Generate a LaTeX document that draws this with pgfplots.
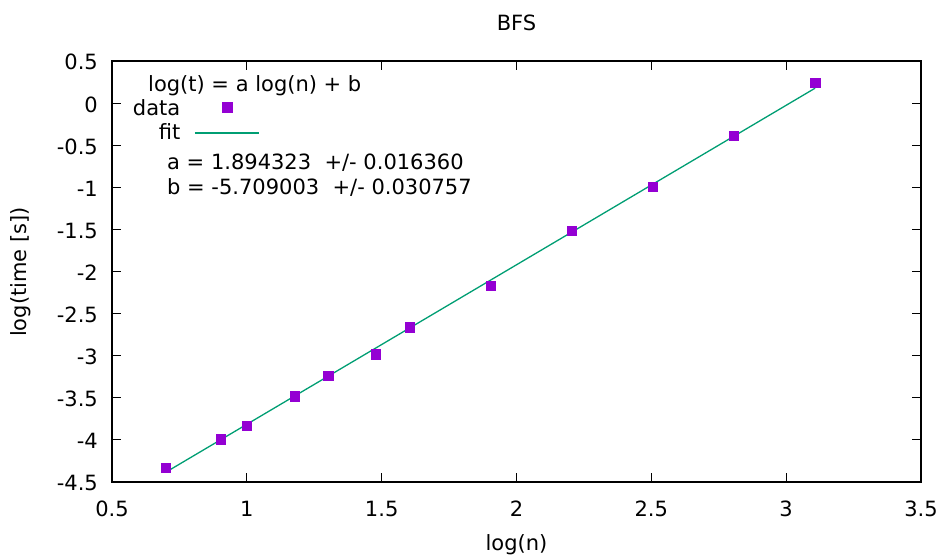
\documentclass[border=0pt]{standalone}
\usepackage{pgfplots}
\pgfplotsset{compat=1.18}
\usepackage{fontspec}
\setmainfont{DejaVu Sans}

\definecolor{dataviolet}{HTML}{9400D3}
\definecolor{fitgreen}{HTML}{009E73}

% key samples: a single centred mark, and a plain line, each 64pt wide
\pgfplotsset{
  key mark/.style={legend image code/.code={\draw[mark repeat=2, mark phase=2, ##1]
    plot coordinates {(0pt,4pt) (32pt,4pt) (64pt,4pt)};}},
  key line/.style={legend image code/.code={\draw[##1] (0pt,2pt) -- (64pt,2pt);}},
}

% measured run times of BFS, log10 scale
\pgfplotstableread{
logn     logt
0.69897  -4.33
0.90309  -3.99
1.00000  -3.83
1.17609  -3.48
1.30103  -3.24
1.47712  -2.98
1.60206  -2.66
1.90309  -2.17
2.20412  -1.51
2.50515  -0.99
2.80618  -0.39
3.10721   0.24
}\bfsdata

% least-squares line log(t) = a log(n) + b, evaluated at the ends of the data range
\pgfplotstableread{
logn     logt
0.69897  -4.384928
3.10721   0.177056
}\bfsfit

\begin{document}
\begin{tikzpicture}[font=\fontsize{21}{25}\selectfont]
\path[use as bounding box] (0,0) rectangle (941pt,556pt);
\begin{axis}[
  at={(112pt,74pt)}, anchor=south west,
  scale only axis, width=809pt, height=421pt,
  xmin=0.5, xmax=3.5, ymin=-4.5, ymax=0.5,
  xtick={0.5,1,1.5,2,2.5,3,3.5},
  ytick={-4.5,-4,-3.5,-3,-2.5,-2,-1.5,-1,-0.5,0,0.5},
  tick align=inside, major tick length=9pt,
  axis line style={line width=1.4pt},
  every tick/.style={black, line width=0.9pt},
  /pgf/number format/assume math mode=true,
  xticklabel style={anchor=base, inner sep=0pt, yshift=-35pt},
  yticklabel style={anchor=base east, inner sep=0pt, xshift=-14pt, yshift=-9pt},
  legend style={draw=none, fill=none, at={(0.02596,0.905)}, anchor=north west,
    inner sep=0pt, outer sep=0pt, row sep=4pt, column sep=14pt,
    nodes={inner sep=0pt, text height=15pt, text depth=5pt}},
  legend cell align=right,
  legend plot pos=right,
]
\addplot[only marks, mark=square*, mark size=4.6pt, color=dataviolet,
  mark options={fill=dataviolet, draw=dataviolet, line width=0.1pt}, key mark]
  table[x=logn, y=logt] {\bfsdata};
\addlegendentry{data}
\addplot[fitgreen, line width=1.3pt, no marks, key line]
  table[x=logn, y=logt] {\bfsfit};
\addlegendentry{fit}

\node[anchor=base west, inner sep=0pt] at (axis cs:0.6335,0.132) {log(t) = a log(n) + b};
\node[anchor=base west, inner sep=0pt] at (axis cs:0.704,-0.7945) {a = 1.894323\ \ +/- 0.016360};
\node[anchor=base west, inner sep=0pt] at (axis cs:0.704,-1.091) {b = -5.709003\ \ +/- 0.030757};
\end{axis}

\node[anchor=base, inner sep=0pt] at (516.5pt,525pt) {BFS};
\node[anchor=base, inner sep=0pt] at (516.5pt,5.5pt) {log(n)};
\node[anchor=base, inner sep=0pt, rotate=90] at (26pt,284pt) {log(time [s])};
\end{tikzpicture}
\end{document}
